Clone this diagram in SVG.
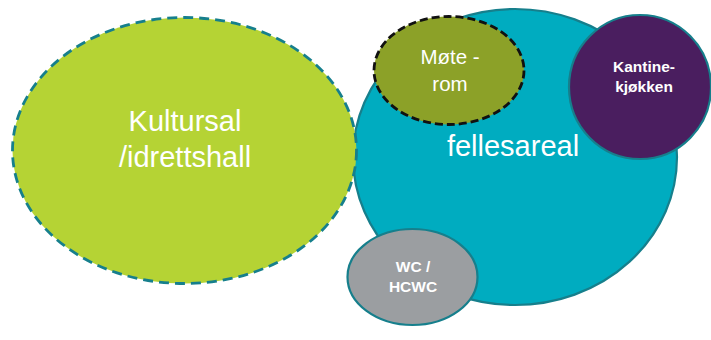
<svg xmlns="http://www.w3.org/2000/svg" width="711" height="340" viewBox="0 0 711 340">
<style>
.lbl{font-family:"Liberation Sans",Arial,sans-serif;fill:#ffffff;text-anchor:middle}
.big{font-size:29px}
.mid{font-size:20.5px}
.sm{font-size:15.5px;font-weight:bold}
.solid{stroke:#167f8c;stroke-width:2.2}
</style>
<rect width="711" height="340" fill="#ffffff"/>
<g id="connectors"></g>
<g id="fellesareal">
<ellipse cx="515" cy="157" rx="162" ry="148" fill="#00acc0" class="solid"/>
<text class="lbl big" x="513" y="156">fellesareal</text>
</g>
<g id="kultursal">
<ellipse cx="184.5" cy="150.5" rx="172" ry="133" fill="#b5d334" stroke="#167f8c" stroke-width="2.8" stroke-dasharray="10,6"/>
<text class="lbl big" x="185" y="131">Kultursal</text>
<text class="lbl big" x="185" y="167">/idrettshall</text>
</g>
<g id="moterom">
<ellipse cx="449" cy="70.5" rx="75" ry="54" fill="#8ca128" stroke="#111111" stroke-width="2.8" stroke-dasharray="8,4"/>
<text class="lbl mid" x="450" y="64">Møte -</text>
<text class="lbl mid" x="450" y="91">rom</text>
</g>
<g id="kantine">
<ellipse cx="640" cy="87" rx="71" ry="72" fill="#4a1e5f" class="solid"/>
<text class="lbl sm" x="644" y="72">Kantine-</text>
<text class="lbl sm" x="644" y="92">kjøkken</text>
</g>
<g id="wc">
<ellipse cx="412.5" cy="277" rx="65" ry="48" fill="#9b9ea1" class="solid"/>
<text class="lbl sm" x="413" y="272">WC /</text>
<text class="lbl sm" x="413" y="292">HCWC</text>
</g>
</svg>
